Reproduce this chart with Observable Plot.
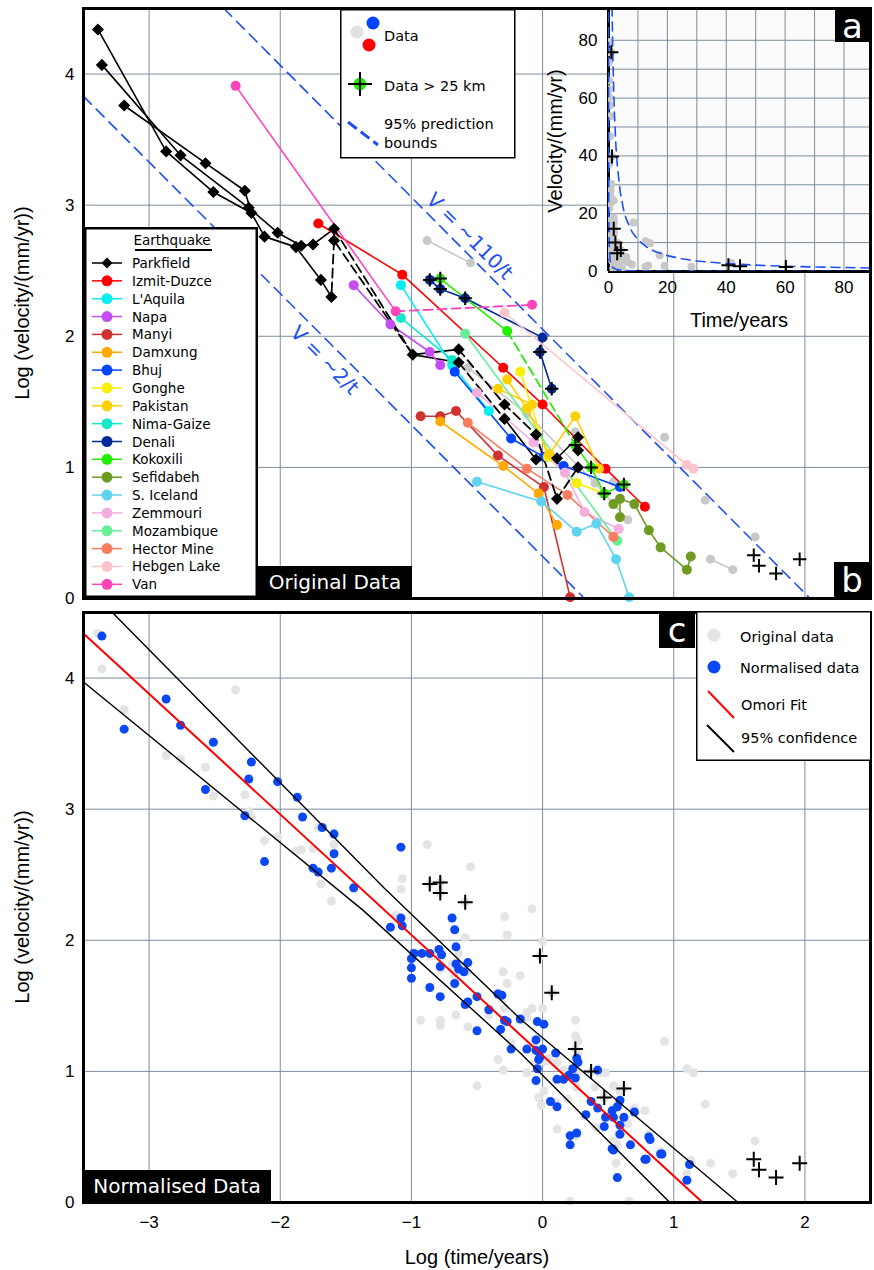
<!DOCTYPE html>
<html><head><meta charset="utf-8">
<script src="https://cdn.jsdelivr.net/npm/d3@7"></script>
<script src="https://cdn.jsdelivr.net/npm/@observablehq/plot@0.6"></script>
<style>
html,body{margin:0;padding:0;background:#fff;}
#wrap{position:relative;width:874px;height:1270px;overflow:hidden;background:#fff;}
#wrap svg{position:absolute;}
.lbl{position:absolute;white-space:nowrap;}
.box{position:absolute;background:#000;color:#fff;font-family:"DejaVu Sans",sans-serif;display:flex;align-items:center;justify-content:center;}
</style></head>
<body><div id="wrap"></div>
<script>
// ---------------- data (log10 time in years, log10 velocity in mm/yr) ----------------
const quakeNames = ["Parkfield","Izmit-Duzce","L'Aquila","Napa","Manyi","Damxung","Bhuj","Gonghe","Pakistan","Nima-Gaize","Denali","Kokoxili","Sefidabeh","S. Iceland","Zemmouri","Mozambique","Hector Mine","Hebgen Lake","Van"];
const quakeColors = ["#000000","#ff0000","#00f0f0","#c44cf2","#d03232","#ffaa00","#0044ff","#f8f000","#ffd000","#12e8cc","#002a99","#22ee00","#6e9b22","#5fd3ef","#f5aee0","#66ee99","#fa7d5f","#ffc4cc","#ff44bb"];
const xTicks = [-3,-2,-1,0,1,2];
const yTicks = [0,1,2,3,4];
const insetTicks = [0,20,40,60,80];
const insetGrid = [0,10,20,30,40,50,60,70,80];

const parkfieldA = [[-3.39,4.34],[-2.87,3.41],[-2.51,3.10],[-2.22,2.94],[-2.12,2.76],[-1.88,2.68],[-1.69,2.43],[-1.61,2.30]];
const parkfieldB = [[-3.36,4.07],[-2.76,3.38],[-2.24,2.98],[-2.02,2.79],[-1.84,2.69],[-1.75,2.70],[-1.59,2.82]];
const parkfieldC = [[-3.19,3.76],[-2.57,3.32],[-2.27,3.11],[-2.22,2.94]];
const parkfieldD = [[-1.59,2.73],[-1.61,2.30]];
const parkfieldE = [[-1.59,2.82],[-1.59,2.73],[-0.99,1.86]];
const parkfieldF = [[-1.59,2.82],[-0.99,1.86]];
const parkfieldG = [[-0.99,1.86],[-0.64,1.90]];
const parkfieldH = [[-0.99,1.86],[-0.64,1.80]];
const parkfieldI = [[-0.64,1.90],[-0.29,1.48],[-0.05,1.25],[0.11,0.76],[0.27,1.00]];
const parkfieldJ = [[-0.64,1.80],[-0.29,1.37]];
const parkfieldK = [[-0.29,1.37],[-0.05,1.06],[0.11,1.07],[0.27,1.23],[0.27,1.13]];
const izmit = [[-1.71,2.86],[-1.07,2.47],[-0.30,1.76],[0.00,1.48],[0.48,0.99],[0.78,0.70]];
const laquila = [[-1.08,2.39],[-0.69,1.78],[-0.41,1.43]];
const napa = [[-1.44,2.39],[-1.16,2.09],[-0.86,1.88],[-0.78,1.78]];
const manyi = [[-0.93,1.39],[-0.78,1.39],[-0.66,1.43],[-0.34,1.09],[0.01,0.85],[0.21,0.01]];
const damxung = [[-0.78,1.35],[-0.30,1.01],[-0.03,0.80],[0.11,0.56]];
const bhuj = [[-0.67,1.73],[-0.24,1.22],[0.01,1.08],[0.16,1.01],[0.59,0.85]];
const gonghe = [[-0.17,1.73],[0.04,1.08],[0.26,0.88],[0.47,0.80]];
const pakistanA = [[-0.27,1.67],[-0.12,1.45],[0.05,1.10],[0.25,1.39],[0.43,0.99]];
const pakistanB = [[-0.34,1.60],[-0.08,1.48]];
const nimaGaize = [[-1.08,2.14],[-0.69,1.82]];
const denali = [[-0.86,2.43],[-0.78,2.36],[-0.59,2.29],[0.00,1.99],[-0.02,1.88],[0.07,1.60]];
const kokoxiliA = [[-0.78,2.44],[-0.27,2.04]];
const kokoxiliB = [[-0.27,2.04],[0.25,1.17]];
const kokoxiliC = [[0.25,1.17],[0.37,1.00],[0.47,0.80],[0.62,0.87]];
const sefidabehA = [[0.54,0.72],[0.59,0.76],[0.70,0.72],[0.81,0.52],[0.90,0.39],[1.10,0.22],[1.13,0.32]];
const sefidabehB = [[0.59,0.76],[0.59,0.62]];
const sIceland = [[-0.50,0.89],[-0.01,0.74],[0.26,0.51],[0.41,0.57],[0.56,0.30],[0.66,0.01]];
const zemmouri = [[-0.50,1.57],[-0.07,1.19],[0.17,0.96],[0.32,0.66],[0.58,0.53]];
const mozambique = [[-0.59,2.02],[0.57,0.44]];
const hectorMine = [[-0.57,1.34],[-0.12,0.99],[0.19,0.79],[0.54,0.47]];
const hebgenLake = [[-0.29,2.18],[1.10,1.02],[1.15,0.99]];
const vanA = [[-2.34,3.91],[-1.12,2.19]];
const vanB = [[-1.12,2.19],[-0.08,2.24]];

// unlabelled light-grey data and the "> 25 km" crosses
const greyOnly = [[-0.88,2.73],[-0.55,2.56],[-0.57,1.76],[-0.12,1.41],[0.25,1.27],[0.40,0.88],[0.54,0.89],[0.65,0.60],[0.93,1.23],[1.24,0.75],[1.62,0.47],[1.28,0.30],[1.45,0.22]];
const greyLineA = [[-0.88,2.73],[-0.55,2.56]];
const greyLineB = [[-0.57,1.76],[-0.12,1.41],[0.40,0.88],[0.65,0.60]];
const greyLineC = [[1.28,0.30],[1.45,0.22]];
const farPts = [[-0.86,2.43],[-0.78,2.44],[-0.78,2.36],[-0.59,2.29],[-0.02,1.88],[0.07,1.60],[0.25,1.17],[0.37,1.00],[0.47,0.80],[0.62,0.87],[1.61,0.33],[1.65,0.25],[1.78,0.19],[1.96,0.30]];

// 95% prediction bounds (end points)
const boundUpper = [[-2.43,4.5],[2.04,0]];
const boundLower = [[-3.5,3.83],[0.32,0]];

// normalised data (panel c)
const normPts = [[-3.36,4.32],[-2.87,3.84],[-3.19,3.61],[-2.76,3.64],[-2.51,3.51],[-2.22,3.36],[-2.24,3.23],[-2.57,3.15],[-2.02,3.21],[-1.87,3.09],[-2.27,2.95],[-1.83,2.94],[-1.68,2.86],[-1.59,2.81],[-1.59,2.66],[-1.61,2.55],[-1.75,2.55],[-1.71,2.52],[-2.12,2.60],[-1.44,2.40],
[-1.08,2.71],[-0.69,2.17],[-1.08,2.17],[-1.16,2.10],[-1.07,2.11],[-0.67,2.08],[-0.66,1.95],[-0.98,1.90],[-1.00,1.86],[-0.92,1.90],[-0.86,1.90],[-0.79,1.93],[-0.77,1.89],[-0.78,1.80],[-1.00,1.79],[-1.00,1.71],[-0.66,1.82],[-0.64,1.78],[-0.60,1.76],[-0.57,1.83],[-0.67,1.67],[-0.86,1.64],[-0.78,1.57],[-0.50,1.57],[-0.57,1.53],[-0.59,1.51],[-0.41,1.47],[-0.50,1.31],[-0.34,1.59],[-0.31,1.58],[-0.27,1.38],[-0.32,1.32],[-0.29,1.39],[-0.17,1.40],[-0.04,1.38],[0.01,1.36],[-0.05,1.24],[-0.12,1.17],[0.00,1.17],[-0.02,1.11],[-0.24,1.17],[0.10,1.14],[-0.04,1.02],[0.26,1.10],[0.27,1.07],[0.42,1.01],[0.23,1.02],[-0.05,1.16],[-0.03,1.09],[-0.05,0.93],[0.11,0.94],[0.16,0.94],[0.20,0.97],[0.25,0.95],[0.06,0.77],[0.11,0.73],[0.33,0.67],[0.37,0.77],[0.42,0.72],[0.48,0.65],[0.53,0.70],[0.57,0.73],[0.59,0.78],[0.54,0.65],[0.62,0.65],[0.47,0.58],[0.59,0.59],[0.59,0.52],[0.67,0.44],[0.70,0.69],[0.81,0.50],[0.82,0.48],[0.90,0.37],[0.78,0.33],[0.53,0.41],[0.21,0.51],[0.26,0.53],[0.21,0.44],[0.57,0.19],[1.12,0.29],[1.10,0.17],[0.79,0.33],[0.91,0.37],[0.54,0.40]];
const omoriFit = [[-3.49,4.33],[1.22,0]];
const confUpper = [[-3.28,4.5],[-1.21,2.40],[-0.17,1.40],[1.49,0]];
const confLower = [[-3.5,3.97],[-1.37,2.23],[-0.17,1.14],[0.97,0]];

// inset: sample times for the v = k/t bound curves; k from the bound lines
const insetCurveT = [0.01,0.015,0.02,0.03,0.04,0.05,0.07,0.1,0.15,0.2,0.3,0.5,0.8,1,1.2,1.5,2,2.5,3,4,5,6,8,10,13,16,20,25,30,40,50,60,70,80,90];

// ---------------- build rows ----------------
const segments = [
  {q:"Parkfield", pts:parkfieldA, dash:false},{q:"Parkfield", pts:parkfieldB, dash:false},{q:"Parkfield", pts:parkfieldC, dash:false},
  {q:"Parkfield", pts:parkfieldD, dash:true},{q:"Parkfield", pts:parkfieldE, dash:true},{q:"Parkfield", pts:parkfieldF, dash:true},
  {q:"Parkfield", pts:parkfieldG, dash:false},{q:"Parkfield", pts:parkfieldH, dash:false},{q:"Parkfield", pts:parkfieldI, dash:true},
  {q:"Parkfield", pts:parkfieldJ, dash:true},{q:"Parkfield", pts:parkfieldK, dash:false},
  {q:"Izmit-Duzce", pts:izmit, dash:false},{q:"L'Aquila", pts:laquila, dash:false},{q:"Napa", pts:napa, dash:false},
  {q:"Manyi", pts:manyi, dash:false},{q:"Damxung", pts:damxung, dash:false},{q:"Bhuj", pts:bhuj, dash:false},
  {q:"Gonghe", pts:gonghe, dash:false},{q:"Pakistan", pts:pakistanA, dash:false},{q:"Pakistan", pts:pakistanB, dash:false},
  {q:"Nima-Gaize", pts:nimaGaize, dash:false},{q:"Denali", pts:denali, dash:false},
  {q:"Kokoxili", pts:kokoxiliA, dash:false},{q:"Kokoxili", pts:kokoxiliB, dash:true},{q:"Kokoxili", pts:kokoxiliC, dash:false},
  {q:"Sefidabeh", pts:sefidabehA, dash:false},{q:"Sefidabeh", pts:sefidabehB, dash:false},{q:"S. Iceland", pts:sIceland, dash:false},
  {q:"Zemmouri", pts:zemmouri, dash:false},{q:"Mozambique", pts:mozambique, dash:false},{q:"Hector Mine", pts:hectorMine, dash:false},
  {q:"Hebgen Lake", pts:hebgenLake, dash:false},{q:"Van", pts:vanA, dash:false},{q:"Van", pts:vanB, dash:true}
];
const lineRows = [];
segments.forEach((s,i)=>s.pts.forEach(([x,y])=>lineRows.push({seg:i,q:s.q,dash:s.dash,x,y})));
const solidRows = lineRows.filter(d=>!d.dash), dashRows = lineRows.filter(d=>d.dash);
const seen = new Set(), dotRows = [];
lineRows.forEach(d=>{const k=d.q+"|"+d.x+"|"+d.y; if(!seen.has(k)){seen.add(k); dotRows.push(d);}});
const pfDots = dotRows.filter(d=>d.q==="Parkfield");
const colDots = dotRows.filter(d=>d.q!=="Parkfield");
const greyRows = greyOnly.map(([x,y])=>({x,y}));
const greyLineRows = [greyLineA,greyLineB,greyLineC].flatMap((a,i)=>a.map(([x,y])=>({g:i,x,y})));
const farRows = farPts.map(([x,y])=>({x,y}));
const boundRows = [["upper",boundUpper],["lower",boundLower]].flatMap(([b,a])=>a.map(([x,y])=>({b,x,y})));
const origAll = dotRows.map(d=>({x:d.x,y:d.y})).concat(greyRows);
const normRows = normPts.map(([x,y])=>({x,y}));
const fitRows = [["fit",omoriFit],["up",confUpper],["lo",confLower]].flatMap(([f,a])=>a.map(([x,y])=>({f,x,y})));

const boundK = [boundUpper, boundLower].map(a=>Math.pow(10, a[1][0]+a[1][1]));
const insetDots = origAll.map(d=>({t:Math.pow(10,d.x), v:Math.pow(10,d.y)}));
const insetFar = farRows.map(d=>({t:Math.pow(10,d.x), v:Math.pow(10,d.y)}));
const insetCurves = boundK.flatMap((k,i)=>insetCurveT.map(t=>({c:i,t,v:k/t})));

// ---------------- styles ----------------
const GRID = "#7d8d9c";
const BLUE_DASH = "#1d4ff5";
const AXFONT = "'Liberation Sans', Arial, sans-serif";
const LFONT = "'DejaVu Sans', sans-serif";
const intFmt = d3.format("d");
const wrap = document.getElementById("wrap");
function put(svg, left, topPx){ svg.style.left = left+"px"; svg.style.top = topPx+"px"; wrap.appendChild(svg); return svg; }

// ---------------- panel b (top) ----------------
const panelB = Plot.plot({
  width: 874, height: 606, marginLeft: 83, marginRight: 4, marginTop: 8, marginBottom: 8,
  x: {domain: [-3.5, 2.5], axis: null},
  y: {domain: [0, 4.5]},
  color: {domain: quakeNames, range: quakeColors},
  style: {fontFamily: AXFONT, fontSize: "17px", background: "transparent", color: "#000", overflow: "visible"},
  marks: [
    Plot.gridX(xTicks, {stroke: GRID, strokeOpacity: 1, strokeWidth: 1}),
    Plot.gridY(yTicks, {stroke: GRID, strokeOpacity: 1, strokeWidth: 1}),
    Plot.axisY(yTicks, {tickSize: 0, tickPadding: 9, label: null, tickFormat: intFmt}),
    Plot.line(boundRows, {x: "x", y: "y", z: "b", stroke: BLUE_DASH, strokeWidth: 1.6, strokeDasharray: "11,7"}),
    Plot.line(greyLineRows, {x: "x", y: "y", z: "g", stroke: "#c8c8c8", strokeWidth: 1.6}),
    Plot.dot(greyRows, {x: "x", y: "y", fill: "#c8c8c8", r: 4.5}),
    Plot.line(solidRows, {x: "x", y: "y", z: "seg", stroke: "q", strokeWidth: 1.6}),
    Plot.line(dashRows, {x: "x", y: "y", z: "seg", stroke: "q", strokeWidth: 1.8, strokeDasharray: "9,5"}),
    Plot.dot(colDots, {x: "x", y: "y", fill: "q", r: 5}),
    Plot.dot(pfDots, {x: "x", y: "y", symbol: "diamond2", fill: "black", stroke: "black", r: 4.5}),
    Plot.dot(farRows, {x: "x", y: "y", symbol: "plus", stroke: "black", strokeWidth: 2, r: 4.4}),
    Plot.frame({stroke: "black", strokeWidth: 3})
  ]
});
put(panelB, 0, 0);

// ---------------- inset a ----------------
const panelA = Plot.plot({
  width: 330, height: 340, marginLeft: 68, marginRight: 0, marginTop: 0, marginBottom: 77,
  x: {domain: [0, 89]},
  y: {domain: [0, 91]},
  style: {fontFamily: AXFONT, fontSize: "17px", background: "transparent", color: "#000", overflow: "visible"},
  marks: [
    Plot.frame({fill: "#fbfbfb", stroke: null}),
    Plot.gridX(insetGrid, {stroke: GRID, strokeOpacity: 1, strokeWidth: 1}),
    Plot.gridY(insetGrid, {stroke: GRID, strokeOpacity: 1, strokeWidth: 1}),
    Plot.axisX(insetTicks, {tickSize: 0, tickPadding: 9, label: null, tickFormat: intFmt}),
    Plot.axisY(insetTicks, {tickSize: 0, tickPadding: 11, label: null, tickFormat: intFmt}),
    Plot.ruleX([0], {stroke: "black", strokeWidth: 3}),
    Plot.ruleY([0], {stroke: "black", strokeWidth: 3}),
    Plot.dot(insetDots, {x: "t", y: "v", fill: "#c8c8c8", r: 4, clip: true}),
    Plot.line(insetCurves, {x: "t", y: "v", z: "c", stroke: BLUE_DASH, strokeWidth: 1.6, strokeDasharray: "9,6", clip: true}),
    Plot.dot(insetFar, {x: "t", y: "v", symbol: "plus", stroke: "black", strokeWidth: 2, r: 4.6, clip: true})
  ]
});
put(panelA, 540, 8);

// top panel frame re-drawn above the inset
const fr = document.createElement("div");
Object.assign(fr.style, {position:"absolute", left:"81.5px", top:"6.5px", width:"790px", height:"593px", border:"3px solid #000", boxSizing:"border-box"});
wrap.appendChild(fr);

// ---------------- panel c (bottom) ----------------
const panelC = Plot.plot({
  width: 874, height: 664, marginLeft: 83, marginRight: 4, marginTop: 6, marginBottom: 68,
  x: {domain: [-3.5, 2.5]},
  y: {domain: [0, 4.5]},
  style: {fontFamily: AXFONT, fontSize: "17px", background: "transparent", color: "#000", overflow: "visible"},
  marks: [
    Plot.gridX(xTicks, {stroke: GRID, strokeOpacity: 1, strokeWidth: 1}),
    Plot.gridY(yTicks, {stroke: GRID, strokeOpacity: 1, strokeWidth: 1}),
    Plot.axisX(xTicks, {tickSize: 0, tickPadding: 13, label: null, tickFormat: intFmt}),
    Plot.axisY(yTicks, {tickSize: 0, tickPadding: 9, label: null, tickFormat: intFmt}),
    Plot.dot(origAll, {x: "x", y: "y", fill: "#e4e4e4", r: 4.5}),
    Plot.dot(normRows, {x: "x", y: "y", fill: "#0a47f5", r: 4.5}),
    Plot.line(fitRows, {x: "x", y: "y", z: "f", stroke: d => d.f === "fit" ? "#ff0000" : "#000000", strokeWidth: d => d.f === "fit" ? 2 : 1.4}),
    Plot.dot(farRows, {x: "x", y: "y", symbol: "plus", stroke: "black", strokeWidth: 2, r: 4.9}),
    Plot.frame({stroke: "black", strokeWidth: 3})
  ]
});
put(panelC, 0, 606);

// ---------------- texts ----------------
function label(text, cx, cy, opts){
  const d = document.createElement("div");
  const sz = opts.size || 20;
  d.className = "lbl";
  d.textContent = text;
  Object.assign(d.style, {fontFamily: opts.font || AXFONT, fontSize: sz+"px", color: opts.color || "#000",
    width: "400px", textAlign: "center", left: (cx-200)+"px", top: (cy - sz*0.6)+"px",
    lineHeight: (sz*1.2)+"px", transform: opts.rot ? `rotate(${opts.rot}deg)` : "", transformOrigin: "50% 50%"});
  wrap.appendChild(d);
  return d;
}
label("Log (velocity/(mm/yr))", 22, 303, {rot: -90});
label("Log (velocity/(mm/yr))", 22, 907, {rot: -90});
label("Log (time/years)", 477, 1257, {});
label("Velocity/(mm/yr)", 555, 141, {rot: -90});
label("Time/years", 739, 320, {});
label("V = ~110/t", 470, 236, {font: LFONT, size: 20, color: BLUE_DASH, rot: 45});
label("V = ~2/t", 325, 360, {font: LFONT, size: 20, color: BLUE_DASH, rot: 45});

function blackBox(text, left, topPx, w, h, size){
  const d = document.createElement("div");
  d.className = "box"; d.textContent = text;
  Object.assign(d.style, {left:left+"px", top:topPx+"px", width:w+"px", height:h+"px", fontSize:size+"px"});
  wrap.appendChild(d);
}
blackBox("a", 835, 9, 35, 33, 34);
blackBox("b", 834, 562, 36, 36, 34);
blackBox("c", 659, 612, 36, 36, 34);
blackBox("Original Data", 258, 566, 154, 32, 20);
blackBox("Normalised Data", 83, 1170, 188, 32, 20);

// ---------------- legends ----------------
const NS = "http://www.w3.org/2000/svg";
function svgBox(left, topPx, w, h, inner){
  const s = document.createElementNS(NS, "svg");
  s.setAttribute("width", w); s.setAttribute("height", h);
  s.style.left = left+"px"; s.style.top = topPx+"px";
  s.innerHTML = inner;
  wrap.appendChild(s);
}
let eq = `<rect x="1.25" y="1.25" width="171.5" height="368.5" fill="#fff" stroke="#000" stroke-width="2.5"/>
<text x="88" y="13" text-anchor="middle" dominant-baseline="central" font-family="DejaVu Sans" font-size="13.5">Earthquake</text>
<line x1="51" x2="128" y1="23" y2="23" stroke="#000" stroke-width="2"/>`;
quakeNames.forEach((n,i)=>{
  const y = 36 + i*17.85;
  const c = quakeColors[i];
  eq += `<line x1="8" x2="38" y1="${y}" y2="${y}" stroke="${c}" stroke-width="1.5"/>`;
  if (i === 0) eq += `<path d="M23 ${y-5.5} L28.5 ${y} L23 ${y+5.5} L17.5 ${y} Z" fill="#000"/>`;
  else eq += `<circle cx="23" cy="${y}" r="5.5" fill="${c}"/>`;
  eq += `<text x="48" y="${y}" dominant-baseline="central" font-family="DejaVu Sans" font-size="13.5">${n.replace("'", "&#39;")}</text>`;
});
svgBox(84, 227, 174, 371, eq);

svgBox(340, 9, 176, 150, `<rect x="0.75" y="0.75" width="174" height="148" fill="#fff" stroke="#000" stroke-width="1.5"/>
<circle cx="17" cy="23" r="6.5" fill="#e0e0e0"/><circle cx="33" cy="14" r="6.5" fill="#0044ff"/><circle cx="29" cy="36" r="6.5" fill="#ff0000"/>
<text x="44" y="27" dominant-baseline="central" font-family="DejaVu Sans" font-size="14.5">Data</text>
<circle cx="20" cy="75" r="6.5" fill="#22ee00"/><line x1="8" x2="32" y1="75" y2="75" stroke="#000" stroke-width="2"/><line x1="20" x2="20" y1="63" y2="87" stroke="#000" stroke-width="2"/>
<text x="44" y="77" dominant-baseline="central" font-family="DejaVu Sans" font-size="14.5">Data &gt; 25 km</text>
<line x1="8" y1="113" x2="38" y2="136" stroke="${BLUE_DASH}" stroke-width="3" stroke-dasharray="11,5"/>
<text x="44" y="115" dominant-baseline="central" font-family="DejaVu Sans" font-size="14.5">95% prediction</text>
<text x="44" y="134" dominant-baseline="central" font-family="DejaVu Sans" font-size="14.5">bounds</text>`);

svgBox(696, 611, 176, 151, `<rect x="0.75" y="0.75" width="174" height="148.5" fill="#fff" stroke="#000" stroke-width="1.5"/>
<circle cx="18" cy="24" r="6.5" fill="#e4e4e4"/>
<text x="44" y="26" dominant-baseline="central" font-family="DejaVu Sans" font-size="14.5">Original data</text>
<circle cx="18" cy="56" r="6.5" fill="#0a47f5"/>
<text x="44" y="57" dominant-baseline="central" font-family="DejaVu Sans" font-size="14.5">Normalised data</text>
<line x1="12" y1="80" x2="38" y2="107" stroke="#ff0000" stroke-width="2"/>
<text x="45" y="94" dominant-baseline="central" font-family="DejaVu Sans" font-size="14.5">Omori Fit</text>
<line x1="11" y1="114" x2="38" y2="141" stroke="#000" stroke-width="2"/>
<text x="45" y="127" dominant-baseline="central" font-family="DejaVu Sans" font-size="14.5">95% confidence</text>`);
</script></body></html>
